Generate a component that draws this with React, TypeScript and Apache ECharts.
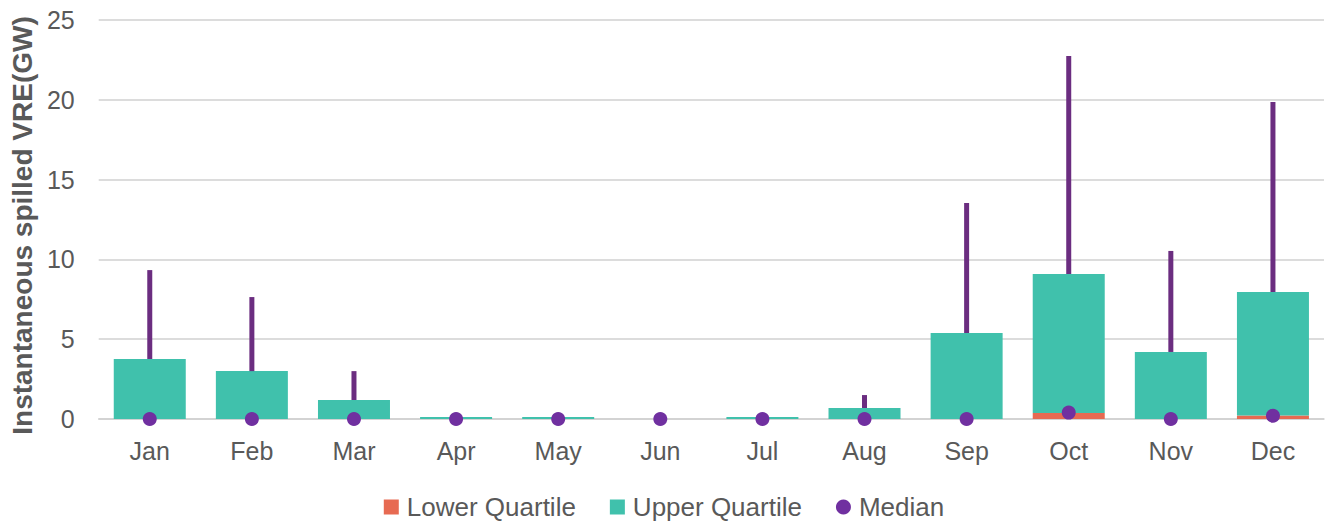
import React, { useEffect, useRef } from "react";
import * as echarts from "echarts";

const months = ["Jan", "Feb", "Mar", "Apr", "May", "Jun", "Jul", "Aug", "Sep", "Oct", "Nov", "Dec"];
const lowerQuartile = [0, 0, 0, 0, 0, 0, 0, 0, 0, 0.38, 0, 0.22];
const upperQuartile = [3.76, 3.0, 1.19, 0.12, 0.12, 0, 0.12, 0.69, 5.39, 9.08, 4.2, 7.96];
const maxValue = [9.33, 7.64, 3.0, 0.12, 0.12, 0, 0.12, 1.5, 13.53, 22.74, 10.53, 19.86];
const median = [0, 0, 0, 0, 0, 0, 0, 0, 0, 0.4, 0, 0.2];
const yTicks = [0, 5, 10, 15, 20, 25];

export default function App() {
  const ref = useRef<HTMLDivElement>(null);
  useEffect(() => {
    document.body.style.margin = "0";
    const chart = echarts.init(ref.current!, null, { renderer: "svg" });
    const font = "Liberation Sans, Arial, sans-serif";
    const upperStack = upperQuartile.map((u, i) => Math.max(0, +(u - lowerQuartile[i]).toFixed(3)));
    const whiskers = months.map((_, i) => [i, upperQuartile[i], maxValue[i]]);
    chart.setOption({
      animation: false,
      grid: { left: 95, right: 4, top: 20, bottom: 111 },
      xAxis: {
        type: "category",
        data: months,
        axisLine: { show: true, lineStyle: { color: "#D0D0D0", width: 1.5 } },
        axisTick: { show: false },
        axisLabel: { color: "#595959", fontSize: 25, fontFamily: font, margin: 19 },
      },
      yAxis: {
        type: "value",
        min: yTicks[0],
        max: yTicks[yTicks.length - 1],
        interval: 5,
        name: "Instantaneous spilled VRE(GW)",
        nameLocation: "middle",
        nameGap: 61,
        nameTextStyle: {
          color: "#595959",
          fontSize: 28,
          fontWeight: "bold",
          fontFamily: font,
          padding: [0, 12, 0, 0],
        },
        axisLine: { show: false },
        axisTick: { show: false },
        axisLabel: { color: "#595959", fontSize: 25, fontFamily: font, margin: 24 },
        splitLine: { lineStyle: { color: "#D0D0D0", width: 1.5 } },
      },
      legend: {
        bottom: 5,
        left: "center",
        itemWidth: 15,
        itemHeight: 15,
        itemGap: 34,
        textStyle: { color: "#595959", fontSize: 26, fontFamily: font, padding: [0, 0, 0, 3] },
        data: [
          { name: "Lower Quartile", icon: "rect" },
          { name: "Upper Quartile", icon: "rect" },
          { name: "Median", icon: "circle" },
        ],
      },
      series: [
        {
          name: "Lower Quartile",
          type: "bar",
          stack: "box",
          barWidth: 72,
          data: lowerQuartile,
          itemStyle: { color: "#E76A52" },
        },
        {
          name: "Upper Quartile",
          type: "bar",
          stack: "box",
          barWidth: 72,
          data: upperStack,
          itemStyle: { color: "#40C1AC" },
        },
        {
          name: "Whisker",
          type: "custom",
          data: whiskers,
          z: 3,
          renderItem: (params: any, api: any) => {
            const base = api.coord([api.value(0), api.value(1)]);
            const top = api.coord([api.value(0), api.value(2)]);
            const h = base[1] - top[1];
            if (h <= 0) return null;
            return {
              type: "rect",
              shape: { x: base[0] - 2.5, y: top[1], width: 5, height: h },
              style: { fill: "#6B2D80" },
            };
          },
        },
        {
          name: "Median",
          type: "scatter",
          data: median,
          symbol: "circle",
          symbolSize: 14,
          z: 4,
          itemStyle: { color: "#7030A0", opacity: 1 },
        },
      ],
    });
    return () => chart.dispose();
  }, []);
  return <div ref={ref} style={{ width: 1328, height: 530 }} />;
}
